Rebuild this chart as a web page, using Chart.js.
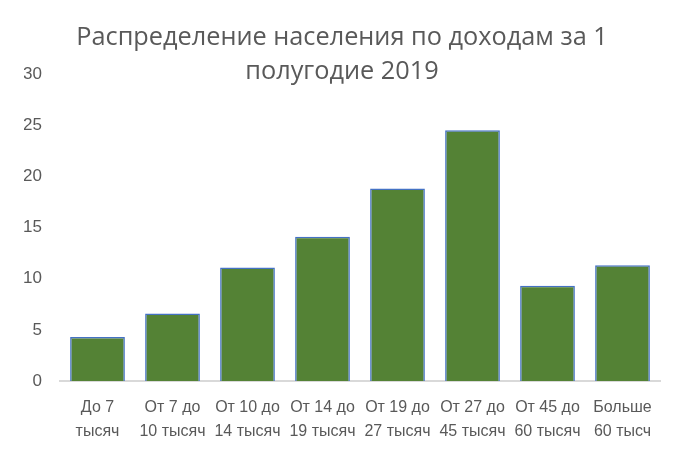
<!DOCTYPE html>
<html>
<head>
<meta charset="utf-8">
<script src="https://cdn.jsdelivr.net/npm/chart.js@4"></script>
<style>
  html, body { margin: 0; padding: 0; background: #fff; }
  #wrap { width: 684px; height: 454px; position: relative; }
</style>
</head>
<body>
<div id="wrap"><canvas id="incomeChart"></canvas></div>
<script>
const titleLines = ['Распределение населения по доходам за 1', 'полугодие 2019'];
const categories = [
    ['До 7', 'тысяч'],
    ['От 7 до', '10 тысяч'],
    ['От 10 до', '14 тысяч'],
    ['От 14 до', '19 тысяч'],
    ['От 19 до', '27 тысяч'],
    ['От 27 до', '45 тысяч'],
    ['От 45 до', '60 тысяч'],
    ['Больше', '60 тысч']
];
const shares = [4.3, 6.6, 11.1, 14.1, 18.8, 24.5, 9.3, 11.3];
const yMin = 0, yMax = 30, yStep = 5;

const textColor = '#595959';
const labelFont = "'Liberation Sans Narrow', 'Liberation Sans', sans-serif";

const ctx = document.getElementById('incomeChart').getContext('2d');
const myChart = new Chart(ctx, {
    type: 'bar',
    data: {
        labels: categories,
        datasets: [{
            data: shares,
            backgroundColor: '#548235',
            borderColor: '#4472C4',
            borderWidth: 1.5,
            barPercentage: 0.73,
            categoryPercentage: 1
        }]
    },
    options: {
        responsive: true,
        maintainAspectRatio: false,
        animation: false,
        layout: { padding: { left: 24, right: 24, top: 0, bottom: 0 } },
        plugins: {
            legend: { display: false },
            tooltip: { enabled: false },
            title: {
                display: true,
                text: titleLines,
                color: textColor,
                font: { family: "'Open Sans', 'Liberation Sans', sans-serif", size: 25.3, weight: 'normal', lineHeight: 1.344 },
                padding: { top: 21, bottom: -15 }
            }
        },
        scales: {
            x: {
                grid: { display: false, drawTicks: false },
                border: { display: true, color: '#d9d9d9', width: 2 },
                ticks: {
                    color: textColor,
                    font: { family: labelFont, size: 16, lineHeight: 1.5 },
                    padding: 15,
                    maxRotation: 0,
                    autoSkip: false
                },
                afterFit: scale => { scale.height = 73; }
            },
            y: {
                min: yMin,
                max: yMax,
                grid: { display: false, drawTicks: false },
                border: { display: false },
                ticks: {
                    stepSize: yStep,
                    color: textColor,
                    font: { family: labelFont, size: 17 },
                    padding: 18
                },
                afterFit: scale => { scale.width = 36; }
            }
        }
    }
});
</script>
</body>
</html>
